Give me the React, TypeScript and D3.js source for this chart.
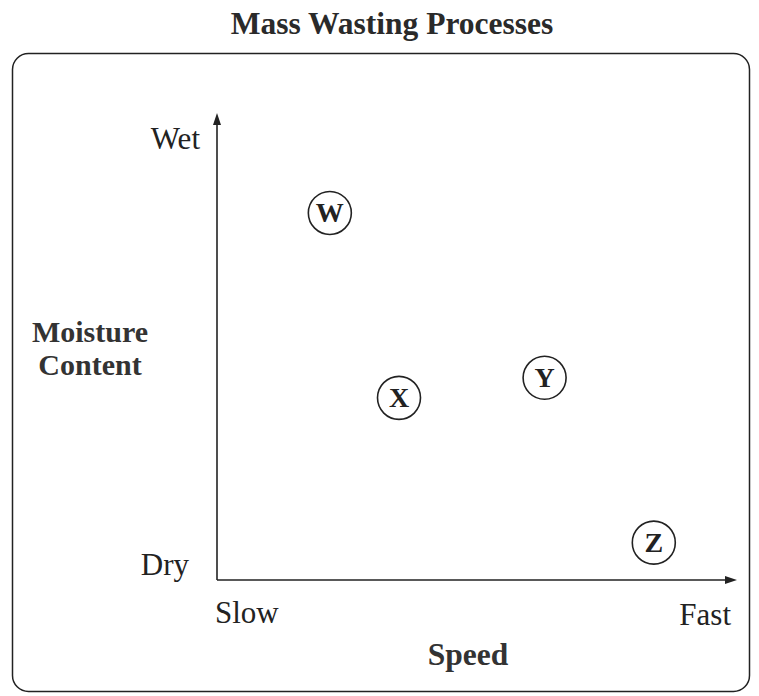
import React, { useEffect, useRef } from 'react';
import * as d3 from 'd3';

// Four mass wasting processes placed on a speed / moisture plane (0-10 scale)
const processLabels = ['W', 'X', 'Y', 'Z'];
const speedValues = [2.17, 3.5, 6.3, 8.4];
const moistureValues = [7.86, 3.9, 4.33, 0.8];

const speedTicks = ['Slow', 'Fast'];
const moistureTicks = ['Dry', 'Wet'];

const FONT = "'Liberation Serif', 'Times New Roman', serif";

const App: React.FC = () => {
  const ref = useRef<SVGSVGElement>(null);

  useEffect(() => {
    if (!ref.current) return;
    const svg = d3.select(ref.current);
    svg.selectAll('*').remove();

    const width = 759;
    const height = 696;
    const origin = { x: 217, y: 580 };

    const x = d3.scaleLinear().domain([0, 10]).range([origin.x, 737]);
    const y = d3.scaleLinear().domain([0, 10]).range([origin.y, 113]);

    svg.attr('width', width).attr('height', height);

    // Title
    svg
      .append('text')
      .attr('x', 392)
      .attr('y', 34)
      .attr('text-anchor', 'middle')
      .style('font-family', FONT)
      .style('font-weight', 'bold')
      .style('font-size', '31.5px')
      .attr('fill', '#2a2a2a')
      .text('Mass Wasting Processes');

    // Frame
    svg
      .append('rect')
      .attr('x', 12.5)
      .attr('y', 53.5)
      .attr('width', 737)
      .attr('height', 638)
      .attr('rx', 16)
      .attr('fill', 'none')
      .attr('stroke', '#222')
      .attr('stroke-width', 1.5);

    const g = svg.append('g');

    // Axes
    g.append('line')
      .attr('x1', x(0))
      .attr('y1', y(0))
      .attr('x2', x(0))
      .attr('y2', y(10) + 8)
      .attr('stroke', '#222')
      .attr('stroke-width', 1.6);
    g.append('line')
      .attr('x1', x(0))
      .attr('y1', y(0))
      .attr('x2', x(10) - 8)
      .attr('y2', y(0))
      .attr('stroke', '#222')
      .attr('stroke-width', 1.6);

    // Arrow heads
    g.append('path')
      .attr('d', `M${x(0)},${y(10)} l-4,12 l8,0 Z`)
      .attr('fill', '#222');
    g.append('path')
      .attr('d', `M${x(10)},${y(0)} l-12,-4 l0,8 Z`)
      .attr('fill', '#222');

    // Axis end labels
    const endLabel = (
      tx: number,
      ty: number,
      anchor: string,
      label: string
    ) =>
      g
        .append('text')
        .attr('x', tx)
        .attr('y', ty)
        .attr('text-anchor', anchor)
        .style('font-family', FONT)
        .style('font-size', '31px')
        .attr('fill', '#222')
        .text(label);

    endLabel(200, y(10) + 36, 'end', moistureTicks[1]);
    endLabel(189, y(0) - 5, 'end', moistureTicks[0]);
    endLabel(x(0) - 2, y(0) + 43, 'start', speedTicks[0]);
    endLabel(731, y(0) + 45, 'end', speedTicks[1]);

    // Axis titles
    g.append('text')
      .attr('x', 468)
      .attr('y', 665)
      .attr('text-anchor', 'middle')
      .style('font-family', FONT)
      .style('font-weight', 'bold')
      .style('font-size', '31.5px')
      .attr('fill', '#333')
      .text('Speed');
    const yTitle = ['Moisture', 'Content'];
    yTitle.forEach((line, i) => {
      g.append('text')
        .attr('x', 90)
        .attr('y', 342 + i * 33)
        .attr('text-anchor', 'middle')
        .style('font-family', FONT)
        .style('font-weight', 'bold')
        .style('font-size', '30px')
        .attr('fill', '#333')
        .text(line);
    });

    // Points
    const pts = g
      .selectAll('g.pt')
      .data(processLabels)
      .enter()
      .append('g')
      .attr('class', 'pt')
      .attr(
        'transform',
        (_, i) => `translate(${x(speedValues[i])},${y(moistureValues[i])})`
      );
    pts
      .append('circle')
      .attr('r', 21.5)
      .attr('fill', 'none')
      .attr('stroke', '#222')
      .attr('stroke-width', 1.6);
    pts
      .append('text')
      .attr('text-anchor', 'middle')
      .attr('y', 9.5)
      .style('font-family', FONT)
      .style('font-weight', 'bold')
      .style('font-size', '28px')
      .attr('fill', '#222')
      .text((d) => d);
  }, []);

  return (
    <svg
      ref={ref}
      style={{ position: 'absolute', left: 0, top: 0, background: '#fff' }}
    />
  );
};

export default App;
